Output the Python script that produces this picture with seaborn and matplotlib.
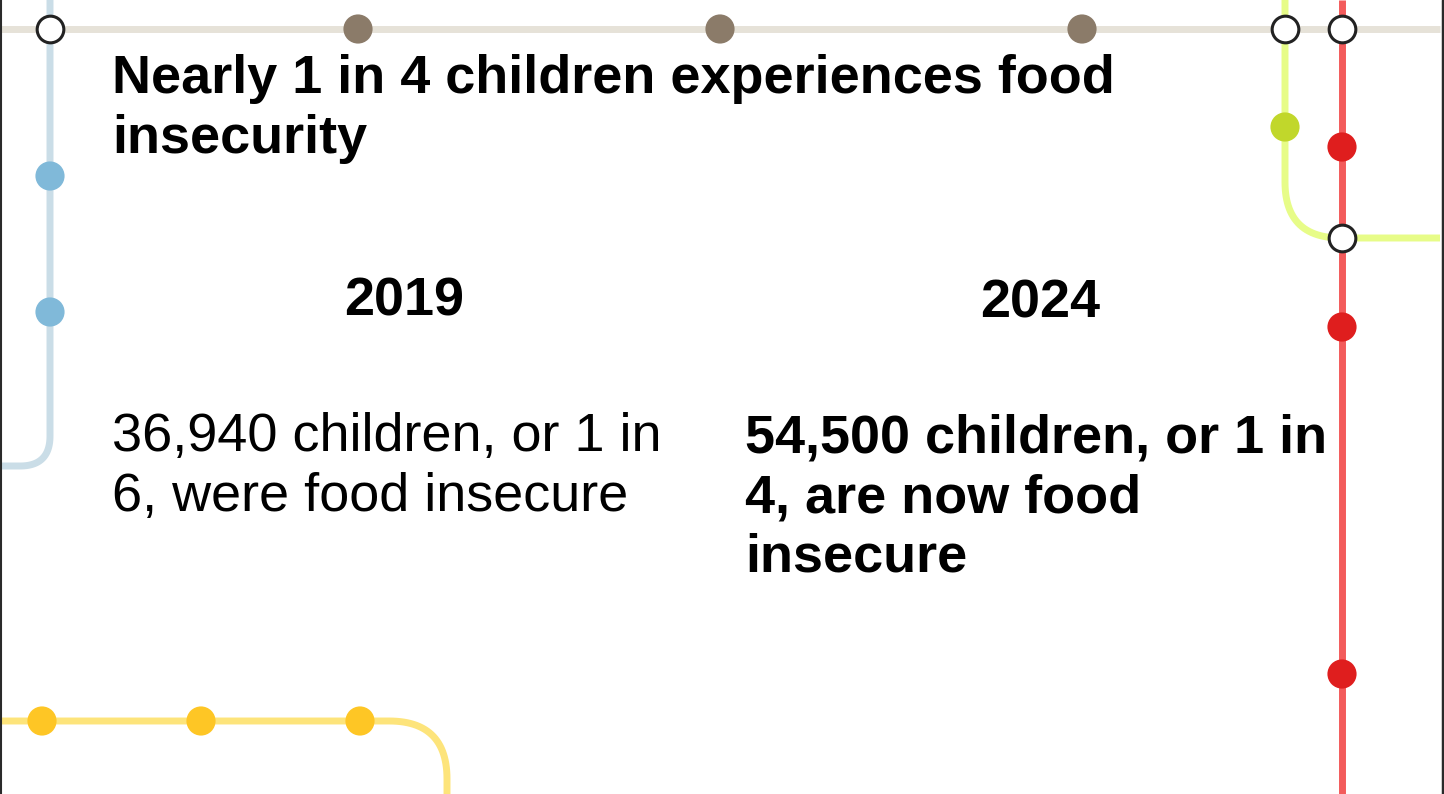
import numpy as np
import pandas as pd
import matplotlib
matplotlib.use("Agg")
import matplotlib.pyplot as plt
import seaborn as sns

# canvas in pixels (1444 x 794), y grows downward
W, H = 1444, 794

# texts
title = "Nearly 1 in 4 children experiences food\ninsecurity"
years = ["2019", "2024"]
facts = ["36,940 children, or 1 in\n6, were food insecure",
         "54,500 children, or 1 in\n4, are now food\ninsecure"]

# track routes (corner points) and corner radius
routes = {
    "grey":   ([0, 1440], [29, 29], 0),
    "blue":   ([50, 50, 0], [0, 466, 466], 30),
    "lime":   ([1285, 1285, 1440], [0, 238, 238], 56),
    "red":    ([1342, 1342], [0, 794], 0),
    "yellow": ([0, 447, 447], [721, 721, 794], 58),
}
track_colors = {"grey": "#e6e2d8", "blue": "#cadde7", "lime": "#e7fc88",
                "red": "#f35b5b", "yellow": "#fde47b"}

# stations
st_line = ["grey", "grey", "grey", "grey", "grey", "grey",
           "blue", "blue", "lime", "red", "red", "red", "red",
           "yellow", "yellow", "yellow"]
st_x = [50, 358, 720, 1082, 1285, 1342,
        50, 50, 1285, 1342, 1342, 1342, 1342,
        42, 201, 360]
st_y = [29, 29, 29, 29, 29, 29,
        176, 312, 127, 147, 327, 674, 238,
        721, 721, 721]
st_kind = ["hub", "stop", "stop", "stop", "hub", "hub",
           "stop", "stop", "stop", "stop", "stop", "stop", "hub",
           "stop", "stop", "stop"]
stop_colors = {"grey": "#8b7b69", "blue": "#80b9d9", "lime": "#c1d72b",
               "red": "#df1e1e", "yellow": "#fec625"}


def rounded(xs, ys, r, n=30):
    """polyline with rounded corners"""
    pts = np.column_stack([xs, ys]).astype(float)
    if r <= 0 or len(pts) < 3:
        return pts[:, 0], pts[:, 1]
    out = [pts[0]]
    for i in range(1, len(pts) - 1):
        p0, p1, p2 = pts[i - 1], pts[i], pts[i + 1]
        d1 = (p0 - p1) / np.linalg.norm(p0 - p1)
        d2 = (p2 - p1) / np.linalg.norm(p2 - p1)
        a, b = p1 + d1 * r, p1 + d2 * r
        t = np.linspace(0, 1, n)[:, None]
        curve = (1 - t) ** 2 * a + 2 * (1 - t) * t * p1 + t ** 2 * b
        out.extend(curve)
    out.append(pts[-1])
    out = np.array(out)
    return out[:, 0], out[:, 1]


sns.set_style("white")
plt.rcParams["font.family"] = ["Liberation Sans", "DejaVu Sans"]
plt.rcParams["text.color"] = "black"

fig = plt.figure(figsize=(W / 100, H / 100), dpi=100)
ax = fig.add_axes([0, 0, 1, 1])

for name, (xs, ys, r) in routes.items():
    px, py = rounded(xs, ys, r)
    ax.plot(px, py, color=track_colors[name], lw=5, solid_capstyle="butt", zorder=1)

df = pd.DataFrame({"line": st_line, "x": st_x, "y": st_y, "kind": st_kind})
stops = df[df["kind"] == "stop"]
hubs = df[df["kind"] == "hub"]
sns.scatterplot(data=stops, x="x", y="y", hue="line", palette=stop_colors,
                s=21 ** 2, linewidth=0, legend=False, ax=ax, zorder=3)
sns.scatterplot(data=hubs, x="x", y="y", color="white", edgecolor="#222222",
                s=19.2 ** 2, linewidth=2.2, legend=False, ax=ax, zorder=4)
ax.set_xlim(0, W)
ax.set_ylim(H, 0)
ax.axis("off")

# multi-line texts: y is the baseline of the last line
fs = 38.9
ax.text(112, 153, title, fontsize=fs, fontweight="bold", ha="left", va="baseline",
        linespacing=1.25, zorder=5)
ax.text(404, 315, years[0], fontsize=fs, fontweight="bold", ha="center", va="baseline", zorder=5)
ax.text(1040, 317, years[1], fontsize=fs, fontweight="bold", ha="center", va="baseline", zorder=5)
ax.text(112, 511, facts[0], fontsize=fs, ha="left", va="baseline", linespacing=1.25, zorder=5)
ax.text(745, 572, facts[1], fontsize=fs, fontweight="bold", ha="left", va="baseline",
        linespacing=1.25, zorder=5)

# screenshot frame on the sides
ax.axvline(1, color="#2a2a2a", lw=1.5, zorder=6)
ax.axvline(1442.5, color="#2a2a2a", lw=2.5, zorder=6)

fig.savefig("out.png", dpi=100)
plt.close(fig)
